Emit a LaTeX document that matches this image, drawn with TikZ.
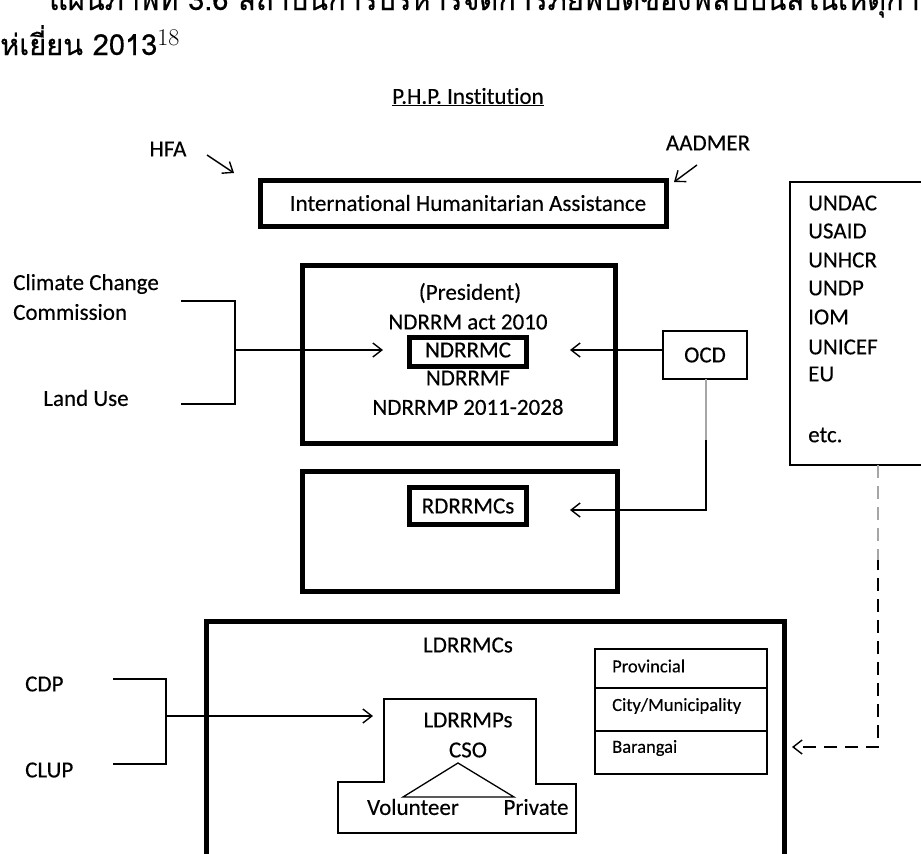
\documentclass[tikz,border=0pt]{standalone}
\usepackage{fontspec}
\setmainfont{Carlito}[Ligatures=NoCommon, FakeBold=0.3]
\newfontfamily\thaifont[Script=Thai, FakeBold=0.4]{Loma}
\newfontfamily\notefont{Latin Modern Roman}
\usetikzlibrary{arrows.meta}
\begin{document}
\begin{tikzpicture}[x=1pt,y=-1pt,
  every node/.style={font=\fontsize{23}{27}\selectfont, inner sep=0pt},
  heavybox/.style={draw, line width=5pt},
  thinbox/.style={draw, line width=1.3pt},
  link/.style={line width=1.4pt},
  tip/.style={-{Straight Barb[length=9pt,width=14pt,line width=1.4pt]}},
  lbl/.style={anchor=west},
  small/.style={font=\fontsize{18.5}{22}\selectfont, anchor=west},
  heading/.style={anchor=base west, font=\thaifont\fontsize{29}{33}\selectfont}]
\useasboundingbox (0,0) rectangle (921,854);
\clip (0,0) rectangle (921,854);

% heading (runs past the page edges)
\node[heading] (head1) at (49,10)
  {แผนภาพที่ 3.6 สถาบันการบริหารจัดการภัยพิบัติของฟิลิปปินส์ในเหตุการณ์พายุไ};
\node[heading] (head2) at (0,55)
  {ห่เยี่ยน 2013\raisebox{10pt}{\notefont\fontsize{24}{26}\selectfont 18}};

% institution title
\node (php) at (468,97) {\underline{P.H.P. Institution}};

% international level
\node (hfa) at (168,149) {HFA};
\node (aadmer) at (708,143) {AADMER};
\node[heavybox, minimum width=406pt, minimum height=46pt] (iha) at (463,203) {};
\node (ihat) at (468,203) {International Humanitarian Assistance};
\coordinate (hfaA) at (207,155);
\coordinate (hfaB) at (234,173);
\coordinate (aadA) at (697,165);
\coordinate (aadB) at (674,182);
\draw[link, tip] (hfaA) -- (hfaB);
\draw[link, tip] (aadA) -- (aadB);

% national level
\node[heavybox, minimum width=313pt, minimum height=178pt] (nat) at (458.5,354) {};
\node (pres) at (470,293) {(President)};
\node (act) at (468,322) {NDRRM act 2010};
\node[heavybox, minimum width=117pt, minimum height=29pt] (ndrrmcbox) at (467.5,351.5) {};
\node (ndrrmc) at (468,350) {NDRRMC};
\node (ndrrmf) at (468,378) {NDRRMF};
\node (ndrrmp) at (468,407) {NDRRMP 2011-2028};

\node[lbl] (ccc1) at (13,284) {Climate Change};
\node[lbl] (ccc2) at (13,312) {Commission};
\node (land) at (86,398) {Land Use};
\coordinate (b1a) at (181,301);
\coordinate (b1b) at (235,301);
\coordinate (b1c) at (235,404);
\coordinate (b1d) at (181,404);
\coordinate (b1m) at (235,350);
\coordinate (b1t) at (383,350);
\draw[line width=1.2pt] (b1a) -- (b1b) -- (b1c) -- (b1d);
\draw[link, tip] (b1m) -- (b1t);

\node[thinbox, minimum width=84pt, minimum height=48pt] (ocd) at (705,355) {};
\node (ocdt) at (705,355) {OCD};
\coordinate (ocdL) at (663,350);
\coordinate (ocdT1) at (570,350);
\draw[link, tip] (ocdL) -- (ocdT1);

% regional level
\node[heavybox, minimum width=315pt, minimum height=120pt] (reg) at (459.5,531) {};
\node[heavybox, minimum width=117pt, minimum height=37pt] (rdbox) at (467.5,505.5) {};
\node (rd) at (468,506) {RDRRMCs};
\coordinate (ocdB) at (706,379);
\coordinate (ocdG) at (706,440);
\coordinate (ocdC) at (706,510);
\coordinate (ocdT2) at (570,510);
\draw[line width=1.4pt, gray!70] (ocdB) -- (ocdG);
\draw[link, tip] (ocdG) -- (ocdC) -- (ocdT2);

% partner agencies
\node[thinbox, minimum width=150pt, minimum height=283pt] (part) at (865,323.5) {};
\node[lbl] (p1) at (808,203) {UNDAC};
\node[lbl] (p2) at (808,231) {USAID};
\node[lbl] (p3) at (808,260) {UNHCR};
\node[lbl] (p4) at (808,288) {UNDP};
\node[lbl] (p5) at (808,317) {IOM};
\node[lbl] (p6) at (808,347) {UNICEF};
\node[lbl] (p7) at (808,374) {EU};
\node[lbl] (p8) at (808,435) {etc.};

% local level
\node[heavybox, minimum width=578pt, minimum height=300pt] (loc) at (495,771) {};
\node (ldc) at (468,645) {LDRRMCs};
\node[thinbox, minimum width=172pt, minimum height=125pt] (lev) at (681,711.5) {};
\coordinate (levA) at (595,688);
\coordinate (levB) at (767,688);
\coordinate (levC) at (595,731);
\coordinate (levD) at (767,731);
\draw[line width=1.2pt] (levA) -- (levB) (levC) -- (levD);
\node[small] (prov) at (612,666) {Provincial};
\node[small] (city) at (612,706) {City/Municipality};
\node[small] (bar) at (612,748) {Barangai};

\coordinate (pA) at (878,465);
\coordinate (pG) at (878,560);
\coordinate (pC) at (878,747);
\coordinate (pT) at (792,747);
\draw[line width=1.5pt, gray!70, dash pattern=on 13pt off 8pt] (pA) -- (pG);
\draw[line width=1.5pt, dash pattern=on 13pt off 8pt, dash phase=3pt, tip] (pG) -- (pC) -- (pT);

\node[lbl] (cdp) at (25,684) {CDP};
\node[lbl] (clup) at (25,770) {CLUP};
\coordinate (b2a) at (113,679);
\coordinate (b2b) at (166,679);
\coordinate (b2c) at (166,764);
\coordinate (b2d) at (113,764);
\coordinate (b2m) at (166,716);
\coordinate (b2t) at (373,716);
\draw[line width=1.2pt] (b2a) -- (b2b) -- (b2c) -- (b2d);
\draw[link, tip] (b2m) -- (b2t);

% local plans
\coordinate (q1) at (384,699);
\coordinate (q2) at (536,699);
\coordinate (q3) at (536,784);
\coordinate (q4) at (576,784);
\coordinate (q5) at (576,833);
\coordinate (q6) at (338,833);
\coordinate (q7) at (338,782);
\coordinate (q8) at (384,782);
\draw[line width=1.2pt] (q1) -- (q2) -- (q3) -- (q4) -- (q5) -- (q6) -- (q7) -- (q8) -- cycle;
\node (ldp) at (468,720) {LDRRMPs};
\node (cso) at (468,750) {CSO};
\coordinate (t1) at (458,763);
\coordinate (t2) at (403,797);
\coordinate (t3) at (514,797);
\draw[line width=1.3pt] (t1) -- (t2) -- (t3) -- cycle;
\node (vol) at (413,807) {Volunteer};
\node (priv) at (536,807) {Private};
\end{tikzpicture}
\end{document}
